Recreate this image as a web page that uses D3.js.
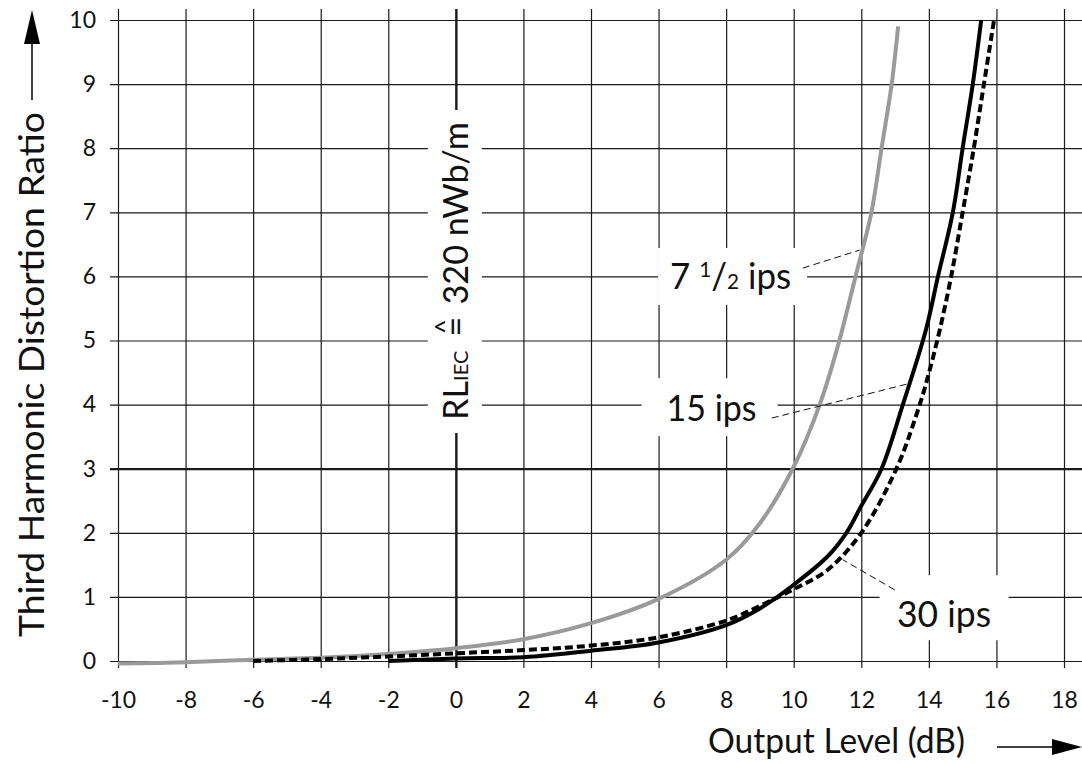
<!DOCTYPE html>
<html>
<head>
<meta charset="utf-8">
<script src="https://cdn.jsdelivr.net/npm/d3@7"></script>
<style>
  html, body { margin: 0; padding: 0; background: #fff; }
  svg { display: block; font-family: Lato, "Noto Sans", sans-serif; }
</style>
</head>
<body>
<svg id="chart" width="1082" height="764"></svg>
<script>
// ---- data ----
const xTicks = [-10, -8, -6, -4, -2, 0, 2, 4, 6, 8, 10, 12, 14, 16, 18];
const yTicks = [0, 1, 2, 3, 4, 5, 6, 7, 8, 9, 10];

// 7 1/2 ips (grey)
const ips7x = [-10, -8, -6, -4, -2, 0, 2, 4, 6, 8, 9, 10, 10.77, 11.3, 11.83, 12.3, 12.6, 12.9, 13.09];
const ips7y = [-0.04, -0.02, 0.02, 0.05, 0.11, 0.2, 0.34, 0.59, 0.97, 1.58, 2.15, 3.03, 4.0, 4.9, 6.0, 7.0, 8.0, 9.0, 9.9];
// 15 ips (solid black)
const ips15x = [-2, 0, 2, 4, 6, 8, 9, 10, 11, 11.56, 12, 12.6, 13.23, 13.91, 14.27, 14.71, 15.0, 15.3, 15.55];
const ips15y = [0.0, 0.04, 0.06, 0.16, 0.29, 0.56, 0.82, 1.19, 1.63, 2.0, 2.42, 3.0, 4.0, 5.16, 6.0, 7.0, 8.0, 9.0, 10.0];
// 30 ips (dashed black)
const ips30x = [-6, -4, -2, 0, 2, 4, 6, 8, 9, 10, 11, 12, 13.04, 13.73, 14.0, 14.32, 14.66, 15.0, 15.33, 15.63, 15.93];
const ips30y = [0.0, 0.03, 0.07, 0.12, 0.17, 0.24, 0.37, 0.63, 0.86, 1.12, 1.42, 2.0, 3.0, 4.0, 4.49, 5.16, 6.0, 7.0, 8.0, 9.0, 10.0];

const seriesNames = ["7 1/2 ips", "15 ips", "30 ips"];

// ---- chart ----
const svg = d3.select("#chart");
const x = d3.scaleLinear().domain([-10, 18]).range([118, 1064]);
const y = d3.scaleLinear().domain([0, 10]).range([661, 20]);

function fit(sel, w) {
  sel.attr("textLength", w).attr("lengthAdjust", "spacingAndGlyphs");
}
function measure(str, size) {
  const t = svg.append("text").attr("font-size", size).text(str);
  const w = t.node().getComputedTextLength();
  t.remove();
  return w;
}

// Y axis with full-width grid lines
const yAxis = svg.append("g").attr("transform", "translate(110,0)")
  .call(d3.axisLeft(y).tickValues(yTicks).tickSize(-(1082 - 110)).tickPadding(14).tickFormat(d => String(d)));
yAxis.select(".domain").remove();
yAxis.selectAll(".tick line").attr("stroke", "#1a1a1a").attr("stroke-width", d => d === 3 ? 2.2 : 1.2);
yAxis.selectAll(".tick text").attr("font-size", 23).attr("fill", "#111").attr("font-family", "Lato, sans-serif");

// X axis with full-height grid lines
const xAxis = svg.append("g").attr("transform", "translate(0,668)")
  .call(d3.axisBottom(x).tickValues(xTicks).tickSize(-(668 - 9)).tickPadding(24).tickFormat(d => String(d)));
xAxis.select(".domain").remove();
xAxis.selectAll(".tick line").attr("stroke", "#1a1a1a").attr("stroke-width", d => d === 0 ? 2.4 : 1.2);
xAxis.selectAll(".tick text").attr("font-size", 23).attr("fill", "#111").attr("font-family", "Lato, sans-serif");

// RL_IEC reference label box on the 0 dB line
const rlCx = x(0), rlCy = 271;
svg.append("rect").attr("x", rlCx - 28).attr("y", 110).attr("width", 54).attr("height", 323).attr("fill", "#fff");
const rlSize = 34;
const wEq = measure("=", rlSize), wHat = measure("^", 26);
const rl = svg.append("text")
  .attr("transform", `translate(${rlCx + 12},${rlCy}) rotate(-90)`)
  .attr("text-anchor", "middle").attr("font-size", rlSize).attr("fill", "#111");
rl.append("tspan").text("RL");
rl.append("tspan").attr("font-size", 20).text("IEC");
rl.append("tspan").attr("dx", 14).text("=");
rl.append("tspan").attr("font-size", 26).attr("dx", -(wEq + wHat) / 2).attr("dy", -14).text("^");
rl.append("tspan").attr("dx", (wEq - wHat) / 2 + 12).attr("dy", 14).text("320 nWb/m");
fit(rl, 298);

// Label boxes
const labels = [
  { name: seriesNames[0], cx: 8.19, cy: 6.0, w: 149, h: 57, base: 289, lx1: 10.27, ly1: 6.13, lx2: 11.95, ly2: 6.41, tw: 121 },
  { name: seriesNames[1], cx: 7.51, cy: 3.96, w: 136, h: 58, base: 421, lx1: 9.35, ly1: 3.79, lx2: 13.43, ly2: 4.33, tw: 90 },
  { name: seriesNames[2], cx: 14.45, cy: 0.83, w: 129, h: 65, base: 627, lx1: 12.99, ly1: 1.11, lx2: 11.45, ly2: 1.58, tw: 94 }
];
labels.forEach((l, i) => {
  svg.append("rect")
    .attr("x", x(l.cx) - l.w / 2).attr("y", y(l.cy) - l.h / 2)
    .attr("width", l.w).attr("height", l.h).attr("fill", "#fff");
});

// Curves
const line = d3.line().x(d => x(d[0])).y(d => y(d[1])).curve(d3.curveCatmullRom.alpha(0.5));
const zip = (a, b) => a.map((v, i) => [v, b[i]]);
svg.append("path").datum(zip(ips7x, ips7y)).attr("d", line)
  .attr("fill", "none").attr("stroke", "#9a9a9a").attr("stroke-width", 4);
svg.append("path").datum(zip(ips30x, ips30y)).attr("d", line)
  .attr("fill", "none").attr("stroke", "#000").attr("stroke-width", 4).attr("stroke-dasharray", "8,4");
svg.append("path").datum(zip(ips15x, ips15y)).attr("d", line)
  .attr("fill", "none").attr("stroke", "#000").attr("stroke-width", 4);

// Leaders and label text
labels.forEach((l, i) => {
  svg.append("line")
    .attr("x1", x(l.lx1)).attr("y1", y(l.ly1)).attr("x2", x(l.lx2)).attr("y2", y(l.ly2))
    .attr("stroke", "#111").attr("stroke-width", 1).attr("stroke-dasharray", "7,4");
  const t = svg.append("text").attr("x", x(l.cx) - (i === 0 ? 2 : (i === 1 ? -2 : 0))).attr("y", l.base)
    .attr("text-anchor", "middle").attr("font-size", 37).attr("fill", "#111");
  if (i === 0) {
    t.append("tspan").text("7 ");
    t.append("tspan").attr("font-size", 22).attr("dy", -12).text("1");
    t.append("tspan").attr("font-size", 37).attr("dy", 12).text("/");
    t.append("tspan").attr("font-size", 22).text("2");
    t.append("tspan").text(" ips");
  } else {
    t.text(l.name);
  }
  fit(t, l.tw);
});

// Axis titles
const yt = svg.append("text")
  .attr("transform", "translate(44,374.5) rotate(-90)")
  .attr("text-anchor", "middle").attr("font-size", 34).attr("fill", "#111")
  .text("Third Harmonic Distortion Ratio");
fit(yt, 525);
const xt = svg.append("text")
  .attr("x", 836.5).attr("y", 753)
  .attr("text-anchor", "middle").attr("font-size", 34).attr("fill", "#111")
  .text("Output Level (dB)");
fit(xt, 257);

// Arrows
svg.append("line").attr("x1", 32).attr("y1", 100).attr("x2", 32).attr("y2", 40)
  .attr("stroke", "#000").attr("stroke-width", 1.5);
svg.append("path").attr("d", "M32,10 L24,44 L40,44 Z").attr("fill", "#000");
svg.append("line").attr("x1", 997).attr("y1", 747).attr("x2", 1056).attr("y2", 747)
  .attr("stroke", "#000").attr("stroke-width", 1.5);
svg.append("path").attr("d", "M1082,747 L1052,739 L1052,755 Z").attr("fill", "#000");
</script>
</body>
</html>
